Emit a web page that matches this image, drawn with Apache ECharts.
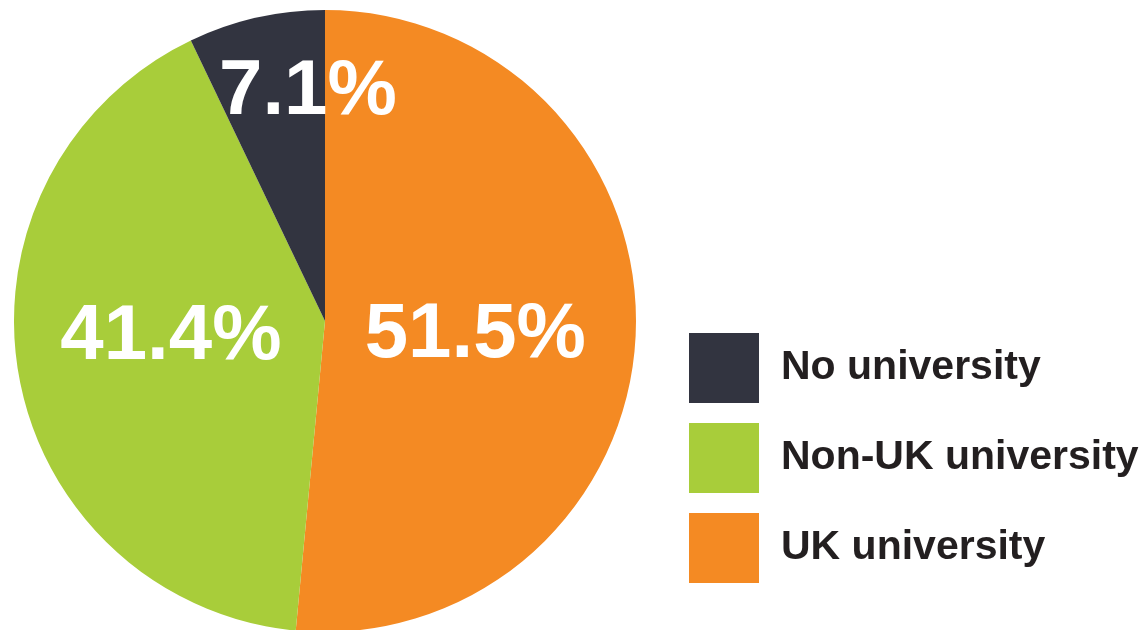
<!DOCTYPE html>
<html>
<head>
<meta charset="utf-8">
<style>html,body{margin:0;padding:0;background:#fff}#c{width:1147px;height:630px}</style>
<script src="https://cdn.jsdelivr.net/npm/echarts@6/dist/echarts.min.js"></script>
</head>
<body>
<div id="c"></div>
<script>
var categories = ['UK university', 'Non-UK university', 'No university'];
var values = [51.5, 41.4, 7.1];
var colors = ['#f48a23', '#a8cd3a', '#323440'];
var legendOrder = ['No university', 'Non-UK university', 'UK university'];
var labelShift = [[-8, 7], [2, -11], [18, -74]];

var chart = echarts.init(document.getElementById('c'));
chart.setOption({
  animation: false,
  legend: {
    data: legendOrder,
    orient: 'vertical',
    left: 684, top: 328,
    itemWidth: 70, itemHeight: 70, itemGap: 20,
    icon: 'rect',
    selectedMode: false,
    textStyle: {fontFamily: 'Liberation Sans', fontWeight: 'bold', fontSize: 41, color: '#231f20', padding: [8, 0, 0, 17]}
  },
  series: [{
    type: 'pie',
    center: [325, 321],
    radius: 311,
    startAngle: 90,
    clockwise: true,
    silent: true,
    label: {
      show: true, position: 'inside',
      formatter: function (p) { return p.value.toFixed(1) + '%'; },
      fontFamily: 'Liberation Sans', fontWeight: 'bold', fontSize: 78, color: '#ffffff'
    },
    labelLayout: function (p) {
      var s = labelShift[p.dataIndex];
      return {dx: s[0], dy: s[1]};
    },
    itemStyle: {borderWidth: 0},
    data: categories.map(function (n, i) { return {name: n, value: values[i], itemStyle: {color: colors[i]}}; })
  }]
});
</script>
</body>
</html>
